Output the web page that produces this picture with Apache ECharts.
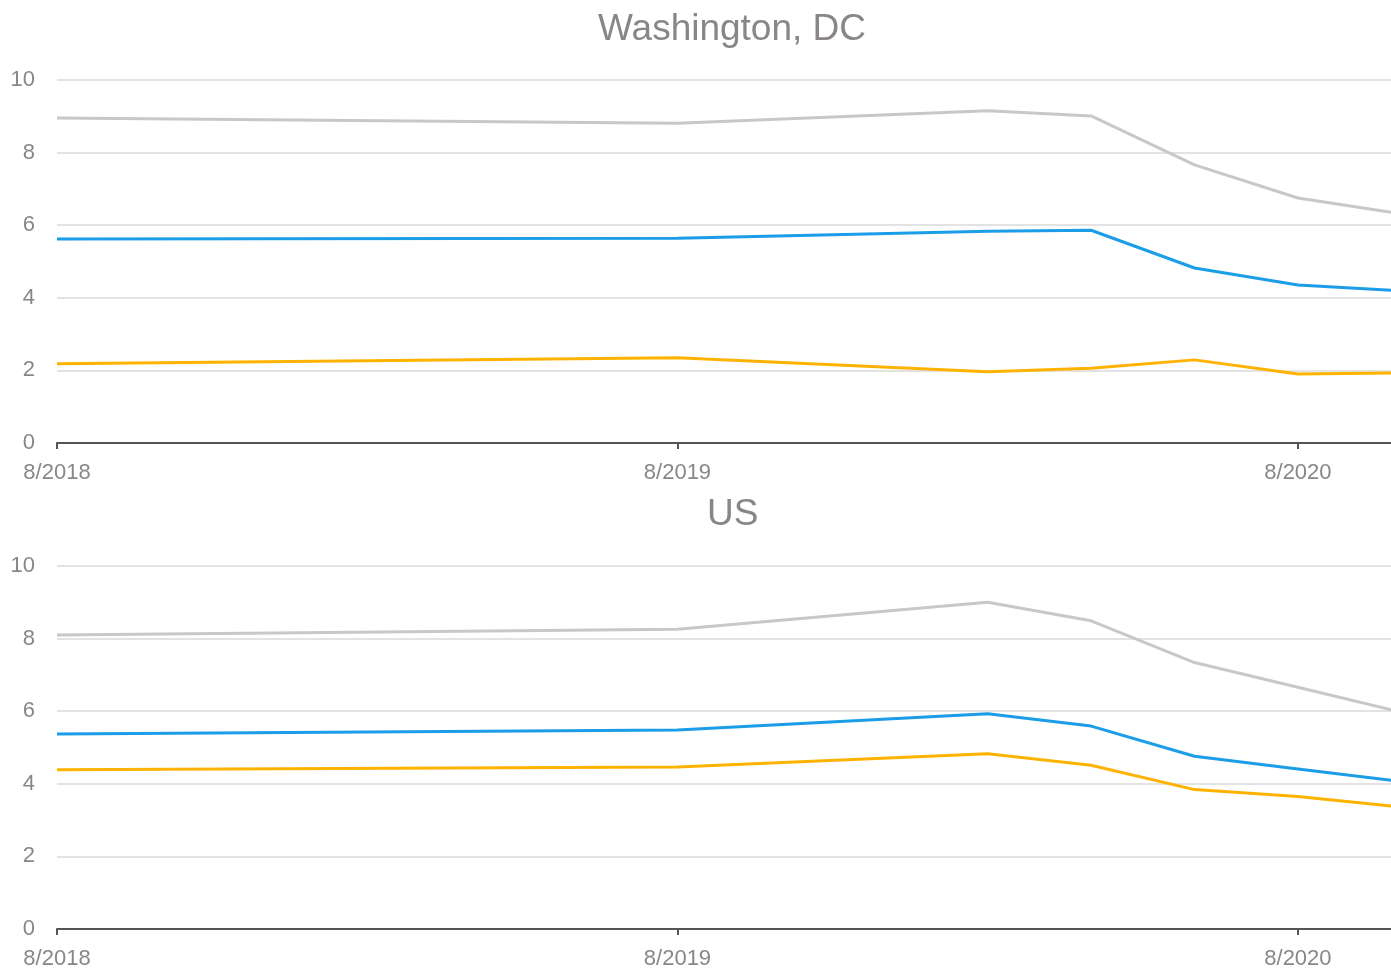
<!DOCTYPE html>
<html>
<head>
<meta charset="utf-8">
<script src="https://cdn.jsdelivr.net/npm/echarts@6/dist/echarts.min.js"></script>
<style>
html,body{margin:0;padding:0;background:#fff;}
#chart{width:1391px;height:970px;}
</style>
</head>
<body>
<div id="chart"></div>
<script>
// Dates of observations (year-month)
var dates = ['2018-08', '2019-08', '2020-02', '2020-04', '2020-06', '2020-08', '2020-10'];
var titles = ['Washington, DC', 'US'];
var yTicks = [0, 2, 4, 6, 8, 10];

// Washington, DC
var dcGray   = [8.95, 8.81, 9.15, 9.01, 7.66, 6.75, 6.31];
var dcBlue   = [5.62, 5.64, 5.83, 5.86, 4.82, 4.35, 4.19];
var dcYellow = [2.18, 2.35, 1.96, 2.06, 2.29, 1.90, 1.93];

// US
var usGray   = [8.10, 8.26, 9.00, 8.49, 7.34, 6.66, 5.97];
var usBlue   = [5.37, 5.48, 5.93, 5.59, 4.76, 4.41, 4.06];
var usYellow = [4.39, 4.46, 4.83, 4.51, 3.84, 3.65, 3.36];

var baseYear = 2018, baseMonth = 8;
function monthIndex(s) {
  var p = s.split('-');
  return (parseInt(p[0], 10) - baseYear) * 12 + (parseInt(p[1], 10) - baseMonth);
}
function monthLabel(v) {
  var total = baseMonth - 1 + Math.round(v);
  var y = baseYear + Math.floor(total / 12);
  var m = (total % 12) + 1;
  return m + '/' + y;
}
var xs = dates.map(monthIndex);
function pts(vals) { return vals.map(function (v, i) { return [xs[i], v]; }); }

var FONT = 'Liberation Sans, Arial, sans-serif';
var TXT = '#8a8686';
var GRAY = '#c8c8c8', BLUE = '#1b9de8', YELLOW = '#ffb300';

var grids = [
  {left: 57, right: 0, top: 80, height: 363},
  {left: 57, right: 0, top: 566, height: 364}
];

function xAxis(idx) {
  return {
    type: 'value', gridIndex: idx, min: 0, max: 25.8, interval: 12,
    axisLine: {show: true, lineStyle: {color: '#555555', width: 2}},
    axisTick: {show: true, length: 6, lineStyle: {color: '#555555', width: 2}},
    splitLine: {show: false},
    axisLabel: {
      color: TXT, fontFamily: FONT, fontSize: 22, margin: 19,
      showMaxLabel: false,
      formatter: function (v) { return monthLabel(v); }
    }
  };
}
function yAxis(idx) {
  return {
    type: 'value', gridIndex: idx, min: yTicks[0], max: yTicks[yTicks.length - 1], interval: 2,
    axisLine: {show: false}, axisTick: {show: false},
    splitLine: {show: true, lineStyle: {color: '#e3e3e3', width: 2}},
    axisLabel: {color: TXT, fontFamily: FONT, fontSize: 22, margin: 22}
  };
}
function line(idx, data, color) {
  return {
    type: 'line', xAxisIndex: idx, yAxisIndex: idx, data: pts(data),
    symbol: 'none', smooth: false, clip: true,
    lineStyle: {color: color, width: 3}, itemStyle: {color: color},
    animation: false
  };
}

var chart = echarts.init(document.getElementById('chart'));
chart.setOption({
  animation: false,
  title: [
    {text: titles[0], left: 593, top: 6, textStyle: {color: TXT, fontFamily: FONT, fontSize: 37, fontWeight: 'normal'}},
    {text: titles[1], left: 702, top: 491, textStyle: {color: TXT, fontFamily: FONT, fontSize: 37, fontWeight: 'normal'}}
  ],
  grid: grids,
  xAxis: [xAxis(0), xAxis(1)],
  yAxis: [yAxis(0), yAxis(1)],
  series: [
    line(0, dcGray, GRAY), line(0, dcBlue, BLUE), line(0, dcYellow, YELLOW),
    line(1, usGray, GRAY), line(1, usBlue, BLUE), line(1, usYellow, YELLOW)
  ]
});
</script>
</body>
</html>
